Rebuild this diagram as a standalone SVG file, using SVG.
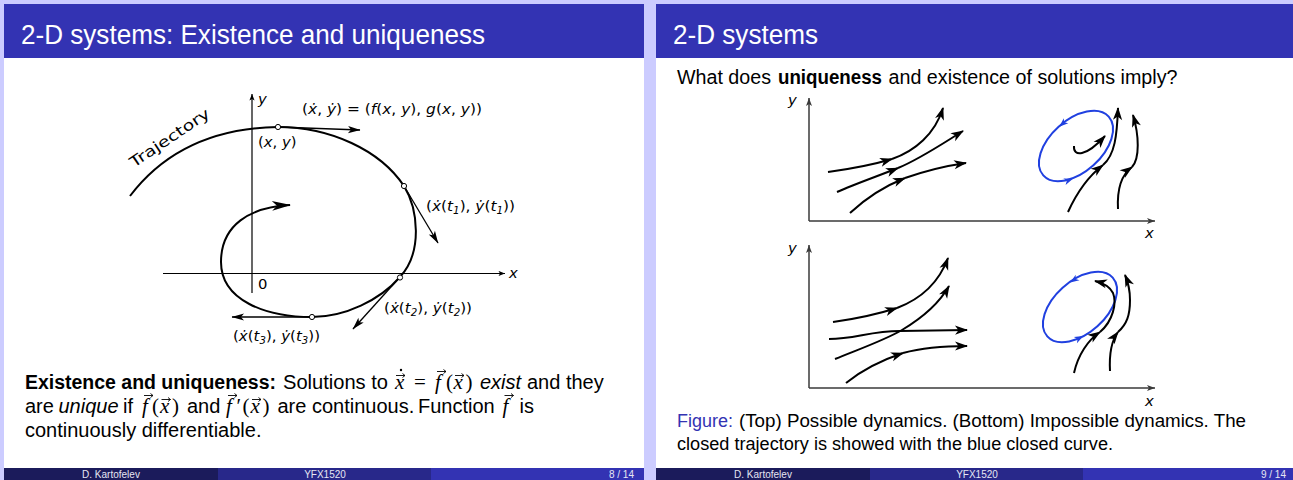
<svg xmlns="http://www.w3.org/2000/svg" width="1293" height="480" viewBox="0 0 1293 480">
<style>
.hdr{fill:#3333b3}
.ttl{font-family:"Liberation Sans",Arial,sans-serif;font-size:27px;fill:#ffffff}
.bd{font-family:"Liberation Sans",Arial,sans-serif;font-size:20px;fill:#000}
.cap{font-family:"Liberation Sans",Arial,sans-serif;font-size:18.3px;fill:#000}
.b{font-weight:bold}
.i{font-style:italic}
.mth{font-family:"Liberation Serif","Times New Roman",serif;font-size:21px;font-style:italic;fill:#000}
.mthn{font-family:"Liberation Serif","Times New Roman",serif;font-size:21px;fill:#000}
.vec{fill:none;stroke:#000;stroke-width:0.9}
.ft{font-family:"Liberation Sans",Arial,sans-serif;font-size:10px;fill:#e6e6f2}
.lb{font-family:"DejaVu Sans",sans-serif;font-size:14.8px;fill:#000}
.it{font-style:italic}
.sb{font-size:10px;font-style:italic}
.cv{fill:none;stroke:#000;stroke-width:2}
.tn{fill:none;stroke:#000;stroke-width:1.3}
.ax{fill:none;stroke:#000;stroke-width:1.2}
.ax2{fill:none;stroke:#3a3a3a;stroke-width:1.5}
.bl{fill:none;stroke:#2040e0;stroke-width:2}
.pt{fill:#fff;stroke:#000;stroke-width:1}
</style>
<defs>
<marker id="axs" viewBox="-7 -3 8 6" refX="0" refY="0" markerWidth="8" markerHeight="6" markerUnits="userSpaceOnUse" orient="auto"><path d="M0,0 L-6.5,-2.6 L-5,0 L-6.5,2.6 Z" fill="#000"/></marker>
<marker id="ax2" viewBox="-9 -4 10 8" refX="0" refY="0" markerWidth="10" markerHeight="8" markerUnits="userSpaceOnUse" orient="auto"><path d="M0,0 L-8,-3 L-6,0 L-8,3 Z" fill="#3a3a3a"/></marker>
<marker id="tn" viewBox="-13 -5 14 10" refX="0" refY="0" markerWidth="14" markerHeight="10" markerUnits="userSpaceOnUse" orient="auto"><path d="M0.5,0 L-12,-3.6 L-9,0 L-12,3.6 Z" fill="#000"/></marker>
<marker id="big" viewBox="-19 -6 20 12" refX="0" refY="0" markerWidth="20" markerHeight="12" markerUnits="userSpaceOnUse" orient="auto"><path d="M1,0 L-18,-4.8 L-13,0 L-18,4.8 Z" fill="#000"/></marker>
<marker id="st" viewBox="-13 -6 14 12" refX="0" refY="0" markerWidth="14" markerHeight="12" markerUnits="userSpaceOnUse" orient="auto"><path d="M1,0 L-12,-4.6 L-8.5,0 L-12,4.6 Z" fill="#000"/></marker>
<path id="bah" d="M1,0 L-8,-3.4 L-5.5,0 L-8,3.4 Z" fill="#2040e0"/>
</defs>

<rect width="1293" height="480" fill="#ccccff"/>

<!-- Left slide -->
<g id="slide8">
<rect x="4" y="4" width="640" height="476" fill="#ffffff"/>
<rect class="hdr" x="4" y="4" width="640" height="54"/>
<text class="ttl" x="21" y="44" textLength="464" lengthAdjust="spacingAndGlyphs">2-D systems: Existence and uniqueness</text>

<g id="phase-diagram">
<line class="ax" x1="252" y1="293" x2="252" y2="94" marker-end="url(#axs)"/>
<line class="ax" x1="163" y1="273.5" x2="505" y2="273.5" marker-end="url(#axs)"/>
<text class="lb it" x="258" y="104">y</text>
<text class="lb it" x="509" y="278">x</text>
<text class="lb" x="258" y="289">0</text>
<path class="cv" d="M130,196 C165,150 215,128 278,127 C330,127 380,150 404,186 C418,209 423,252 400,277 C380,300 345,317 312,317 C265,317 221,300 221,262 C221,225 250,207 290,205" marker-end="url(#big)"/>
<line class="tn" x1="278" y1="127" x2="360" y2="130" marker-end="url(#tn)"/>
<line class="tn" x1="404" y1="186" x2="438" y2="243" marker-end="url(#tn)"/>
<line class="tn" x1="400" y1="277" x2="353" y2="329" marker-end="url(#tn)"/>
<line class="tn" x1="312" y1="317" x2="232" y2="317" marker-end="url(#tn)"/>
<circle class="pt" cx="278" cy="127" r="2.6"/>
<circle class="pt" cx="404" cy="186" r="2.6"/>
<circle class="pt" cx="400" cy="277.5" r="2.6"/>
<circle class="pt" cx="312" cy="317" r="2.6"/>
<text class="lb" x="0" y="0" font-size="18.5" transform="translate(134,168) rotate(-34)" textLength="93" lengthAdjust="spacingAndGlyphs">Trajectory</text>
<text class="lb" x="302" y="114" textLength="180" lengthAdjust="spacingAndGlyphs">(<tspan class="it">ẋ</tspan>, <tspan class="it">ẏ</tspan>) = (<tspan class="it">f</tspan>(<tspan class="it">x</tspan>, <tspan class="it">y</tspan>), <tspan class="it">g</tspan>(<tspan class="it">x</tspan>, <tspan class="it">y</tspan>))</text>
<text class="lb" x="258" y="147">(<tspan class="it">x</tspan>, <tspan class="it">y</tspan>)</text>
<text class="lb" x="426" y="211" textLength="89" lengthAdjust="spacingAndGlyphs">(<tspan class="it">ẋ</tspan>(<tspan class="it">t</tspan><tspan class="sb" dy="3">1</tspan><tspan dy="-3">), </tspan><tspan class="it">ẏ</tspan>(<tspan class="it">t</tspan><tspan class="sb" dy="3">1</tspan><tspan dy="-3">))</tspan></text>
<text class="lb" x="384" y="313" textLength="88" lengthAdjust="spacingAndGlyphs">(<tspan class="it">ẋ</tspan>(<tspan class="it">t</tspan><tspan class="sb" dy="3">2</tspan><tspan dy="-3">), </tspan><tspan class="it">ẏ</tspan>(<tspan class="it">t</tspan><tspan class="sb" dy="3">2</tspan><tspan dy="-3">))</tspan></text>
<text class="lb" x="233" y="341" textLength="87" lengthAdjust="spacingAndGlyphs">(<tspan class="it">ẋ</tspan>(<tspan class="it">t</tspan><tspan class="sb" dy="3">3</tspan><tspan dy="-3">), </tspan><tspan class="it">ẏ</tspan>(<tspan class="it">t</tspan><tspan class="sb" dy="3">3</tspan><tspan dy="-3">))</tspan></text>
</g>

<g id="statement">
<text class="bd b" x="25" y="389" textLength="251" lengthAdjust="spacingAndGlyphs">Existence and uniqueness:</text>
<text class="bd" x="283" y="389" textLength="105" lengthAdjust="spacingAndGlyphs">Solutions to</text>
<text class="mth" x="395" y="389">x</text>
<path class="vec" d="M396,375.5 h9 m-2.5,-2 l2.5,2 l-2.5,2"/>
<circle cx="401" cy="370" r="1.2" fill="#000"/>
<text class="mthn" x="414" y="389">=</text>
<text class="mth" x="435" y="389">f</text>
<path class="vec" d="M437,371.5 h9 m-2.5,-2 l2.5,2 l-2.5,2"/>
<text class="mthn" x="446" y="389">(</text>
<text class="mth" x="453.5" y="389">x</text>
<path class="vec" d="M455,375.5 h9 m-2.5,-2 l2.5,2 l-2.5,2"/>
<text class="mthn" x="465.5" y="389">)</text>
<text class="bd i" x="480" y="389">exist</text>
<text class="bd" x="527" y="389">and they</text>

<text class="bd" x="25" y="413">are</text>
<text class="bd i" x="58.5" y="413">unique</text>
<text class="bd" x="123" y="413">if</text>
<text class="mth" x="142" y="413">f</text>
<path class="vec" d="M144,395.5 h9 m-2.5,-2 l2.5,2 l-2.5,2"/>
<text class="mthn" x="152" y="413">(</text>
<text class="mth" x="160" y="413">x</text>
<path class="vec" d="M161.5,399.5 h9 m-2.5,-2 l2.5,2 l-2.5,2"/>
<text class="mthn" x="172" y="413">)</text>
<text class="bd" x="187" y="413">and</text>
<text class="mth" x="226" y="413">f</text>
<path class="vec" d="M228,395.5 h9 m-2.5,-2 l2.5,2 l-2.5,2"/>
<text class="mthn" x="236.5" y="413">′</text>
<text class="mthn" x="242.5" y="413">(</text>
<text class="mth" x="250.5" y="413">x</text>
<path class="vec" d="M252,399.5 h9 m-2.5,-2 l2.5,2 l-2.5,2"/>
<text class="mthn" x="262.5" y="413">)</text>
<text class="bd" x="277.5" y="413">are continuous.</text>
<text class="bd" x="418" y="413">Function</text>
<text class="mth" x="502.5" y="413">f</text>
<path class="vec" d="M504.5,395.5 h9 m-2.5,-2 l2.5,2 l-2.5,2"/>
<text class="bd" x="519.5" y="413">is</text>

<text class="bd" x="25" y="437">continuously differentiable.</text>
</g>

<g id="footer8">
<rect x="4" y="468" width="214" height="12" fill="#1b1b5b"/>
<rect x="218" y="468" width="213" height="12" fill="#28288a"/>
<rect x="431" y="468" width="213" height="12" fill="#3333b3"/>
<text class="ft" x="111" y="477.5" text-anchor="middle">D. Kartofelev</text>
<text class="ft" x="325" y="477.5" text-anchor="middle">YFX1520</text>
<text class="ft" x="634" y="477.5" text-anchor="end">8 / 14</text>
</g>
</g>

<!-- Right slide -->
<g id="slide9">
<rect x="656" y="4" width="640" height="476" fill="#ffffff"/>
<rect class="hdr" x="656" y="4" width="640" height="54"/>
<text class="ttl" x="673" y="44" textLength="145" lengthAdjust="spacingAndGlyphs">2-D systems</text>

<text class="bd" x="677" y="84" textLength="94" lengthAdjust="spacingAndGlyphs">What does</text>
<text class="bd b" x="778" y="84" textLength="104" lengthAdjust="spacingAndGlyphs">uniqueness</text>
<text class="bd" x="888.5" y="84" textLength="289" lengthAdjust="spacingAndGlyphs">and existence of solutions imply?</text>

<g id="top-plot">
<line class="ax2" x1="809" y1="221" x2="809" y2="98" marker-end="url(#ax2)"/>
<line class="ax2" x1="809" y1="221" x2="1155" y2="221" marker-end="url(#ax2)"/>
<text class="lb it" x="788" y="105">y</text>
<text class="lb it" x="1145" y="238">x</text>
<path class="cv" d="M828,172 C850,169 872,165 892,159" marker-end="url(#st)"/>
<path class="cv" d="M892,159 C915,151 935,134 943,108" marker-end="url(#st)"/>
<path class="cv" d="M837,192 C855,184 878,176 898,168" marker-end="url(#st)"/>
<path class="cv" d="M898,168 C920,159 945,142 963,131" marker-end="url(#st)"/>
<path class="cv" d="M850,213 C865,199 885,186 905,178" marker-end="url(#st)"/>
<path class="cv" d="M905,178 C925,171 945,166 966,163" marker-end="url(#st)"/>
<ellipse class="bl" cx="1076" cy="146" rx="44" ry="26" transform="rotate(-42 1076 146)"/>
<use href="#bah" transform="translate(1060,126) rotate(138.7)"/>
<use href="#bah" transform="translate(1072,179) rotate(-19.5)"/>
<path class="cv" d="M1074,146 C1073,157 1086,157 1105,136" marker-end="url(#st)"/>
<path class="cv" d="M1068,212 C1078,190 1090,175 1103,165" marker-end="url(#st)"/>
<path class="cv" d="M1103,165 C1115,155 1117,135 1118,108" marker-end="url(#st)"/>
<path class="cv" d="M1118,209 C1117,190 1121,175 1132,167" marker-end="url(#st)"/>
<path class="cv" d="M1132,167 C1140,158 1139,135 1133,115" marker-end="url(#st)"/>
</g>

<g id="bottom-plot">
<line class="ax2" x1="809" y1="388" x2="809" y2="245" marker-end="url(#ax2)"/>
<line class="ax2" x1="809" y1="388" x2="1155" y2="388" marker-end="url(#ax2)"/>
<text class="lb it" x="788" y="253">y</text>
<text class="lb it" x="1145" y="406">x</text>
<path class="cv" d="M833,322 C855,319 878,314 897,308" marker-end="url(#st)"/>
<path class="cv" d="M897,308 C918,300 938,285 948,258" marker-end="url(#st)"/>
<path class="cv" d="M835,359 C862,348 885,340 902,330 C922,318 940,302 949,286" marker-end="url(#st)"/>
<path class="cv" d="M829,339 C855,339 870,331 900,331 L967,330" marker-end="url(#st)"/>
<path class="cv" d="M846,383 C862,370 882,360 903,353" marker-end="url(#st)"/>
<path class="cv" d="M903,353 C925,347 945,346 967,346" marker-end="url(#st)"/>
<ellipse class="bl" cx="1080" cy="307" rx="44" ry="26" transform="rotate(-42 1080 307)"/>
<use href="#bah" transform="translate(1071,282) rotate(146)"/>
<use href="#bah" transform="translate(1082.5,336.5) rotate(-27)"/>
<path class="cv" d="M1074,373 C1078,355 1088,340 1100,332" marker-end="url(#st)"/>
<path class="cv" d="M1100,332 C1113,321 1117,303 1113,293 C1110,287 1103,283 1095,281" marker-end="url(#st)"/>
<path class="cv" d="M1110,371 C1109,352 1112,340 1118,332" marker-end="url(#st)"/>
<path class="cv" d="M1118,332 C1127,324 1130,315 1130,300 C1130,290 1128,282 1125,275" marker-end="url(#st)"/>
</g>

<g id="caption">
<text class="cap" x="677" y="427" style="fill:#3333b3" textLength="56" lengthAdjust="spacingAndGlyphs">Figure:</text>
<text class="cap" x="739" y="427" textLength="507" lengthAdjust="spacingAndGlyphs">(Top) Possible dynamics. (Bottom) Impossible dynamics. The</text>
<text class="cap" x="677" y="450" textLength="436" lengthAdjust="spacingAndGlyphs">closed trajectory is showed with the blue closed curve.</text>
</g>

<g id="footer9">
<rect x="656" y="468" width="214" height="12" fill="#1b1b5b"/>
<rect x="870" y="468" width="213" height="12" fill="#28288a"/>
<rect x="1083" y="468" width="213" height="12" fill="#3333b3"/>
<text class="ft" x="763" y="477.5" text-anchor="middle">D. Kartofelev</text>
<text class="ft" x="977" y="477.5" text-anchor="middle">YFX1520</text>
<text class="ft" x="1286" y="477.5" text-anchor="end">9 / 14</text>
</g>
</g>
</svg>
